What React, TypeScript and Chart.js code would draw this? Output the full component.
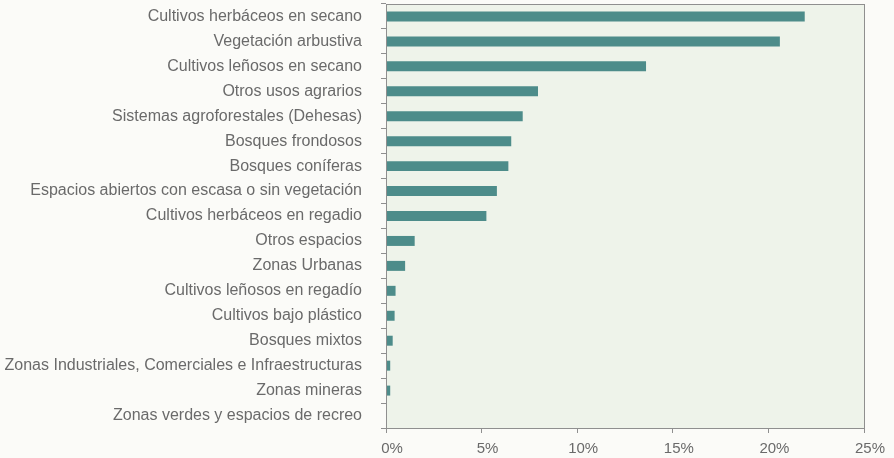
import React, { useEffect, useRef } from "react";
import { Chart, registerables } from "chart.js";

Chart.register(...registerables);

const categories: string[] = [
  "Cultivos herbáceos en secano",
  "Vegetación arbustiva",
  "Cultivos leñosos en secano",
  "Otros usos agrarios",
  "Sistemas agroforestales (Dehesas)",
  "Bosques frondosos",
  "Bosques coníferas",
  "Espacios abiertos con escasa o sin vegetación",
  "Cultivos herbáceos en regadio",
  "Otros espacios",
  "Zonas Urbanas",
  "Cultivos leñosos en regadío",
  "Cultivos bajo plástico",
  "Bosques mixtos",
  "Zonas Industriales, Comerciales e Infraestructuras",
  "Zonas mineras",
  "Zonas verdes y espacios de recreo",
];

const values: number[] = [
  21.9, 20.6, 13.6, 7.95, 7.15, 6.55, 6.4, 5.8, 5.25, 1.5, 1.0, 0.5, 0.45, 0.35, 0.22, 0.22, 0,
];

const xMin = 0;
const xMax = 25;
const xStep = 5;

const TEXT = "#6a6a6a";
const BAR = "#4d8c8a";
const PLOT_BG = "#eef3ea";
const PAGE_BG = "#fbfbf8";
const LINE = "#8f8f8f";
const FONT = "'Liberation Sans', Arial, sans-serif";

const bgPlugin = {
  id: "bgPlugin",
  beforeDraw(chart: any) {
    const { ctx, chartArea, width, height } = chart;
    ctx.save();
    ctx.fillStyle = PAGE_BG;
    ctx.fillRect(0, 0, width, height);
    ctx.fillStyle = PLOT_BG;
    ctx.fillRect(chartArea.left, chartArea.top, chartArea.right - chartArea.left, chartArea.bottom - chartArea.top);
    ctx.restore();
  },
  afterDraw(chart: any) {
    const { ctx, chartArea } = chart;
    ctx.save();
    ctx.strokeStyle = LINE;
    ctx.lineWidth = 1;
    ctx.strokeRect(chartArea.left + 0.5, chartArea.top + 0.5, chartArea.right - chartArea.left, chartArea.bottom - chartArea.top);
    ctx.restore();
  },
};

export default function App() {
  const ref = useRef<HTMLCanvasElement | null>(null);

  useEffect(() => {
    document.body.style.margin = "0";
    if (!ref.current) return;
    const chart = new Chart(ref.current, {
      type: "bar",
      data: {
        labels: categories,
        datasets: [
          {
            data: values,
            backgroundColor: BAR,
            borderWidth: 0,
            barPercentage: 0.4,
            categoryPercentage: 1,
          },
        ],
      },
      options: {
        indexAxis: "y",
        animation: false,
        responsive: false,
        maintainAspectRatio: false,
        layout: { padding: { left: 0, right: 30, top: 4, bottom: 0 } },
        plugins: {
          legend: { display: false },
          tooltip: { enabled: false },
        },
        scales: {
          x: {
            min: xMin,
            max: xMax,
            ticks: {
              stepSize: xStep,
              color: TEXT,
              padding: 7,
              labelOffset: 6,
              maxRotation: 0,
              font: { family: FONT, size: 15 },
              callback: (v: any) => `${v}%`,
            },
            grid: { display: true, drawOnChartArea: false, tickLength: 5, color: LINE },
            border: { display: true, color: LINE },
            afterFit: (s: any) => {
              s.height = 30;
              s.paddingTop = 0;
              s.paddingBottom = 0;
            },
          },
          y: {
            ticks: {
              color: TEXT,
              padding: 19,
              autoSkip: false,
              font: { family: FONT, size: 16 },
            },
            grid: { display: true, drawOnChartArea: false, offset: true, tickLength: 5, color: LINE },
            border: { display: true, color: LINE },
            afterFit: (s: any) => {
              s.width = 386;
              s.paddingTop = 0;
              s.paddingBottom = 0;
            },
          },
        },
      },
      plugins: [bgPlugin],
    });
    return () => chart.destroy();
  }, []);

  return (
    <div style={{ width: 894, height: 458 }}>
      <canvas ref={ref} width={894} height={458} style={{ display: "block" }} />
    </div>
  );
}
